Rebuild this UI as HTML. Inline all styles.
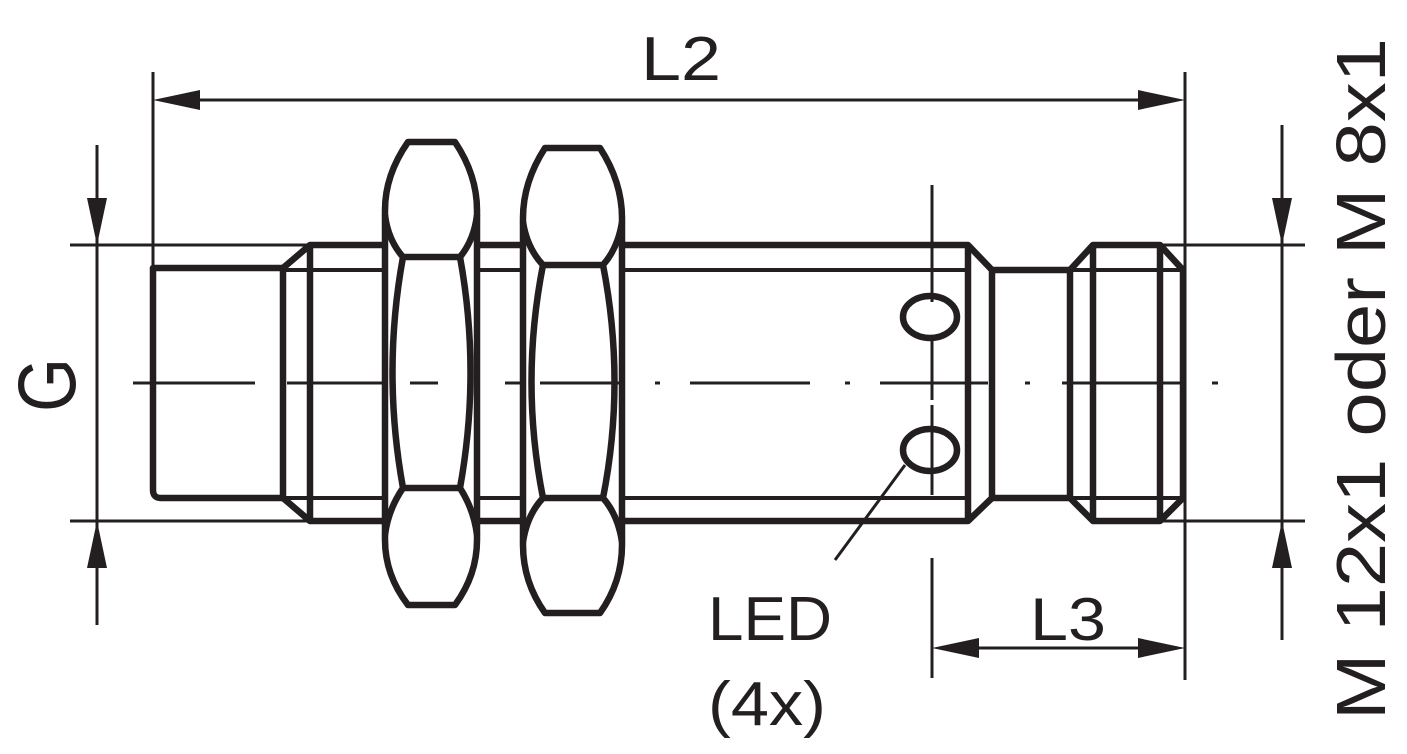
<!DOCTYPE html>
<html><head><meta charset="utf-8"><style>html,body{margin:0;padding:0;background:#fff}svg{display:block}</style></head>
<body>
<svg width="1407" height="754" viewBox="0 0 1407 754" xmlns="http://www.w3.org/2000/svg">
<g stroke="#231f20" fill="none" stroke-linecap="butt">
<!-- thin dimension lines -->
<g stroke-width="3">
<line x1="153" y1="72" x2="153" y2="270"/>
<line x1="1185" y1="72" x2="1185" y2="680"/>
<line x1="195" y1="100" x2="1145" y2="100"/>
<line x1="70" y1="245" x2="310" y2="245"/>
<line x1="70" y1="521" x2="310" y2="521"/>
<line x1="97" y1="145" x2="97" y2="625"/>
<line x1="1160" y1="245" x2="1305" y2="245"/>
<line x1="1160" y1="521" x2="1305" y2="521"/>
<line x1="1282" y1="125" x2="1282" y2="640"/>
<line x1="975" y1="648" x2="1145" y2="648"/>
<line x1="932" y1="185" x2="932" y2="302"/>
<line x1="932" y1="340" x2="932" y2="400"/>
<line x1="932" y1="405" x2="932" y2="495"/>
<line x1="932" y1="558" x2="932" y2="678"/>
<line x1="905" y1="465" x2="835" y2="560"/>
<line x1="133" y1="383" x2="255" y2="383"/>
<line x1="287" y1="383" x2="438" y2="383"/>
<line x1="470" y1="383" x2="474" y2="383"/>
<line x1="505" y1="383" x2="625" y2="383"/>
<line x1="655" y1="383" x2="660" y2="383"/>
<line x1="690" y1="383" x2="810" y2="383"/>
<line x1="845" y1="383" x2="850" y2="383"/>
<line x1="880" y1="383" x2="988" y2="383"/>
<line x1="1025" y1="383" x2="1030" y2="383"/>
<line x1="1062" y1="383" x2="1180" y2="383"/>
<line x1="1212" y1="383" x2="1218" y2="383"/>
</g>
<!-- thread thin lines -->
<g stroke-width="4">
<line x1="283" y1="270" x2="968" y2="270"/>
<line x1="283" y1="498" x2="968" y2="498"/>
<line x1="1070" y1="270" x2="1183" y2="270"/>
<line x1="1070" y1="498" x2="1183" y2="498"/>
</g>
<!-- thick outlines -->
<g stroke-width="6.5" stroke-linejoin="round">
<path d="M283 268 H153 V490 Q153 498 161 498 H283"/>
<path d="M283 268 L310 245 H968 L992 270 V498 L968 521 H310 L283 498 Z"/>
<line x1="310" y1="245" x2="310" y2="521"/>
<line x1="968" y1="245" x2="968" y2="521"/>
<path d="M992 270 H1070 V498 H992"/>
<path d="M1070 270 L1093 245 H1160 L1183 270 V498 L1160 521 H1093 L1070 498"/>
<line x1="1093" y1="245" x2="1093" y2="521"/>
<line x1="1160" y1="245" x2="1160" y2="521"/>
<ellipse cx="930" cy="317" rx="27" ry="21"/>
<ellipse cx="930" cy="450" rx="27" ry="21"/>
<!-- nut 1 -->
<path d="M408 142 H455 Q477 175 477 210 V540 Q477 575 455 605 H408 Q385 575 385 540 V210 Q385 175 408 142 Z" fill="#fff"/>
<path d="M385 215 Q388 240 403 257 H460 Q474 240 477 215"/>
<path d="M385 535 Q388 510 403 488 H460 Q474 510 477 535"/>
<path d="M403 257 Q382 372 403 488"/>
<path d="M460 257 Q481 372 460 488"/>
<!-- nut 2 -->
<path d="M545 148 H600 Q622 182 622 218 V545 Q622 582 600 613 H545 Q523 582 523 545 V218 Q523 182 545 148 Z" fill="#fff"/>
<path d="M523 222 Q527 248 543 265 H603 Q618 248 622 222"/>
<path d="M523 542 Q527 515 543 498 H603 Q618 515 622 542"/>
<path d="M543 265 Q520 382 543 498"/>
<path d="M603 265 Q626 382 603 498"/>
</g>
<g stroke-width="3">
<line x1="133" y1="383" x2="255" y2="383"/>
<line x1="287" y1="383" x2="385" y2="383"/>
<line x1="410" y1="383" x2="438" y2="383"/>
<line x1="505" y1="383" x2="523" y2="383"/>
<line x1="540" y1="383" x2="625" y2="383"/>
</g>
</g>
<g fill="#231f20">
<polygon points="153,100 200,90 200,110"/>
<polygon points="1185,100 1138,90 1138,110"/>
<polygon points="97,245 87,198 107,198"/>
<polygon points="97,521 87,568 107,568"/>
<polygon points="1282,245 1272,198 1292,198"/>
<polygon points="1282,521 1272,568 1292,568"/>
<polygon points="932,648 979,638 979,658"/>
<polygon points="1185,648 1138,638 1138,658"/>
</g>
<g fill="#231f20" font-family="Liberation Sans, sans-serif">
<text x="641" y="80" font-size="62" textLength="80" lengthAdjust="spacingAndGlyphs">L2</text>
<text x="1030" y="640" font-size="60" textLength="76" lengthAdjust="spacingAndGlyphs">L3</text>
<text x="708" y="640" font-size="62" textLength="124" lengthAdjust="spacingAndGlyphs">LED</text>
<text x="708" y="725" font-size="62" textLength="118" lengthAdjust="spacingAndGlyphs">(4x)</text>
<text transform="translate(75,412) rotate(-90)" font-size="82" textLength="54" lengthAdjust="spacingAndGlyphs">G</text>
<text transform="translate(1385,720) rotate(-90)" font-size="70" textLength="682" lengthAdjust="spacingAndGlyphs">M 12x1 oder M 8x1</text>
</g>
</svg>
</body></html>
